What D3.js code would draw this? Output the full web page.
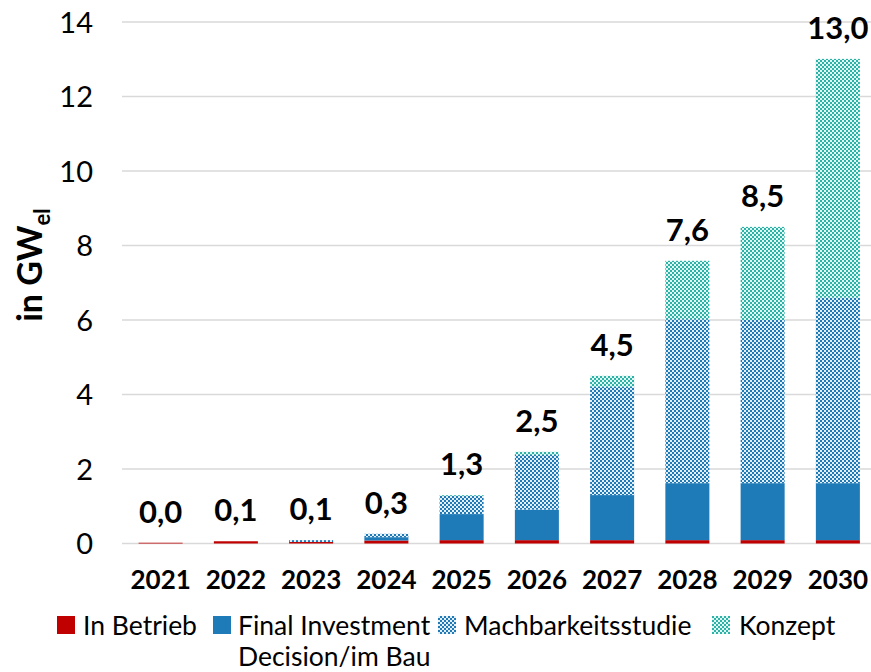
<!DOCTYPE html>
<html>
<head>
<meta charset="utf-8">
<script src="https://cdn.jsdelivr.net/npm/d3@7"></script>
<style>
  html, body { margin: 0; padding: 0; background: #ffffff; }
  svg { display: block; font-family: Lato, "Open Sans", sans-serif; }
</style>
</head>
<body>
<svg id="chart" width="871" height="672"></svg>
<script>
// Installed electrolysis capacity by project status, in GW_el
const years = ["2021", "2022", "2023", "2024", "2025", "2026", "2027", "2028", "2029", "2030"];
const inBetrieb     = [0.02, 0.06, 0.04, 0.08, 0.09, 0.09, 0.09, 0.09, 0.09, 0.09];
const finalInvest   = [0.00, 0.00, 0.00, 0.09, 0.70, 0.82, 1.21, 1.53, 1.53, 1.53];
const machbarkeit   = [0.00, 0.00, 0.05, 0.09, 0.49, 1.47, 2.91, 4.40, 4.38, 4.98];
const konzept       = [0.00, 0.00, 0.00, 0.00, 0.02, 0.08, 0.29, 1.57, 2.50, 6.41];
const yTicks = [0, 2, 4, 6, 8, 10, 12, 14];

const seriesKeys = ["inBetrieb", "finalInvest", "machbarkeit", "konzept"];
const seriesData = { inBetrieb, finalInvest, machbarkeit, konzept };
const legendLabels = {
  inBetrieb: ["In Betrieb"],
  finalInvest: ["Final Investment", "Decision/im Bau"],
  machbarkeit: ["Machbarkeitsstudie"],
  konzept: ["Konzept"]
};

const RED = "#c00000", BLUE = "#1f7bb8", TEAL = "#2ab3a6";

const svg = d3.select("#chart");
const defs = svg.append("defs");

// Small checkerboard fills
function checker(id, color, bg) {
  const p = defs.append("pattern")
    .attr("id", id).attr("patternUnits", "userSpaceOnUse")
    .attr("width", 4).attr("height", 4);
  p.append("rect").attr("width", 4).attr("height", 4).attr("fill", bg);
  p.append("rect").attr("x", 0).attr("y", 0).attr("width", 2).attr("height", 2).attr("fill", color);
  p.append("rect").attr("x", 2).attr("y", 2).attr("width", 2).attr("height", 2).attr("fill", color);
}
checker("chkBlue", BLUE, "#e4eff8");
checker("chkTeal", TEAL, "#e3f5f3");

const fills = {
  inBetrieb: RED,
  finalInvest: BLUE,
  machbarkeit: "url(#chkBlue)",
  konzept: "url(#chkTeal)"
};

const table = years.map((y, i) => {
  const row = { year: y };
  seriesKeys.forEach(k => row[k] = seriesData[k][i]);
  return row;
});

const x = d3.scaleBand().domain(years).range([123, 875.5])
  .paddingInner(0.415).paddingOuter(0.2075);
const y = d3.scaleLinear().domain([0, 14]).range([543.5, 22]);

// Gridlines
svg.append("g").selectAll("line").data(yTicks).join("line")
  .attr("x1", 122).attr("x2", 871)
  .attr("y1", d => y(d)).attr("y2", d => y(d))
  .attr("stroke", "#d9d9d9").attr("stroke-width", 1.5);

// Y tick labels
const yAxis = d3.axisLeft(y).tickValues(yTicks).tickSize(0).tickPadding(0)
  .tickFormat(d3.format("d"));
const gy = svg.append("g").attr("transform", "translate(93,0)").call(yAxis);
gy.select(".domain").remove();
gy.selectAll("text").attr("font-size", 29).attr("fill", "#000")
  .attr("font-family", "Lato, sans-serif").attr("dy", "0.35em");

// Stacked bars
const stack = d3.stack().keys(seriesKeys)(table);
svg.append("g").selectAll("g").data(stack).join("g")
  .attr("fill", d => fills[d.key])
  .selectAll("rect").data(d => d).join("rect")
  .attr("x", d => x(d.data.year))
  .attr("width", x.bandwidth())
  .attr("y", d => y(d[1]))
  .attr("height", d => Math.max(0, y(d[0]) - y(d[1])));

// Totals above bars
const fmt = v => v.toFixed(1).replace(".", ",");
svg.append("g").selectAll("text").data(table).join("text")
  .attr("x", d => x(d.year) + x.bandwidth() / 2)
  .attr("y", d => y(seriesKeys.reduce((s, k) => s + d[k], 0)) - 20)
  .attr("text-anchor", "middle")
  .attr("font-size", 31).attr("font-weight", "bold")
  .text(d => fmt(seriesKeys.reduce((s, k) => s + d[k], 0)));

// X axis labels
const xAxis = d3.axisBottom(x).tickSize(0).tickPadding(0);
const gx = svg.append("g").attr("transform", "translate(0,589)").call(xAxis);
gx.select(".domain").remove();
gx.selectAll("text").attr("font-size", 26).attr("font-weight", "bold")
  .attr("fill", "#000").attr("font-family", "Lato, sans-serif").attr("dy", 0);

// Y axis title with subscript
const yt = svg.append("text")
  .attr("transform", "translate(42,265) rotate(-90)")
  .attr("text-anchor", "middle")
  .attr("font-size", 34).attr("font-weight", "bold");
yt.append("tspan").text("in GW");
yt.append("tspan").attr("font-size", 22).attr("dy", 8).text("el");

// Legend
const legendX = { inBetrieb: [57, 83], finalInvest: [213, 238], machbarkeit: [438, 464], konzept: [712, 739] };
const lg = svg.append("g");
seriesKeys.forEach(k => {
  const [sx, tx] = legendX[k];
  lg.append("rect").attr("x", sx).attr("y", 616).attr("width", 18).attr("height", 18)
    .attr("fill", fills[k]);
  legendLabels[k].forEach((line, j) => {
    lg.append("text").attr("x", tx).attr("y", 635 + j * 31)
      .attr("font-size", 26.5).attr("fill", "#000").text(line);
  });
});
</script>
</body>
</html>
